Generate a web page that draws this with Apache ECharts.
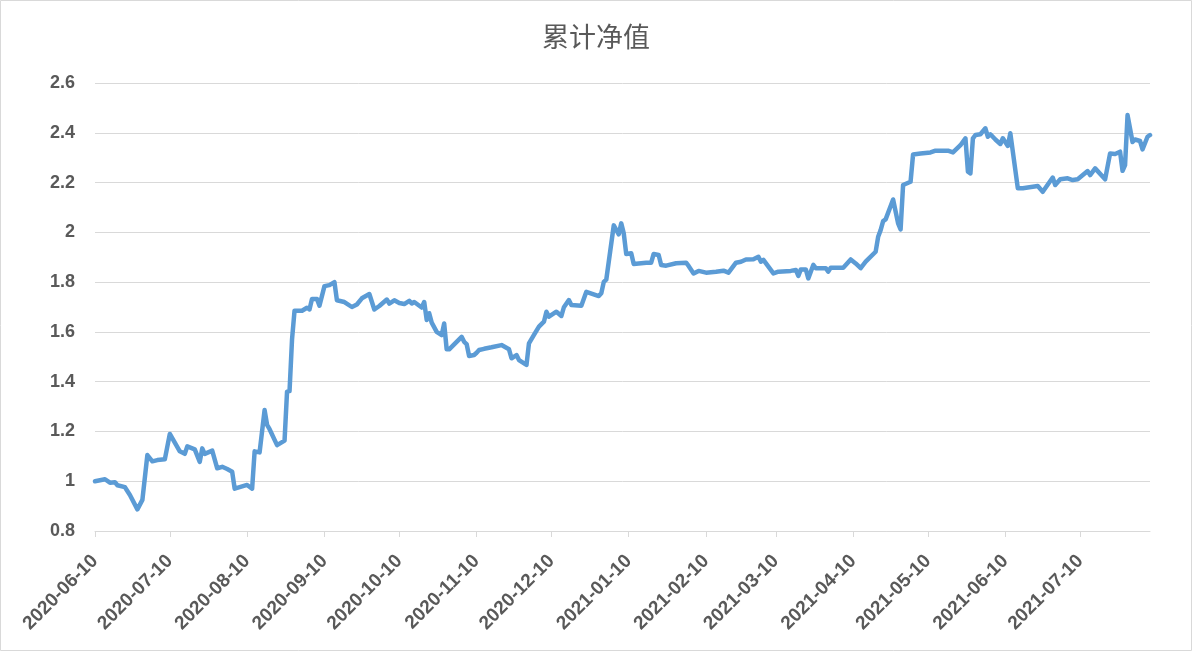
<!DOCTYPE html>
<html>
<head>
<meta charset="utf-8">
<script src="https://cdn.jsdelivr.net/npm/echarts@6/dist/echarts.min.js"></script>
<style>
html,body{margin:0;padding:0;background:#fff;}
#chart{width:1192px;height:651px;}
</style>
</head>
<body>
<div id="chart"></div>
<script>
var titleText = '累计净值';

var dates = [
'2020-06-10','2020-06-14','2020-06-16','2020-06-18','2020-06-19','2020-06-22','2020-06-24','2020-06-27','2020-06-29',
'2020-07-01','2020-07-03','2020-07-05','2020-07-08','2020-07-10','2020-07-14','2020-07-16','2020-07-17','2020-07-20',
'2020-07-22','2020-07-23','2020-07-24','2020-07-27','2020-07-29','2020-07-31','2020-08-02','2020-08-04','2020-08-05',
'2020-08-10','2020-08-12','2020-08-13','2020-08-15','2020-08-17','2020-08-18','2020-08-19','2020-08-22','2020-08-25',
'2020-08-26','2020-08-27','2020-08-28','2020-08-29','2020-09-01','2020-09-03','2020-09-04','2020-09-05','2020-09-07',
'2020-09-08','2020-09-10','2020-09-12','2020-09-14','2020-09-15','2020-09-18','2020-09-21','2020-09-23','2020-09-25',
'2020-09-28','2020-09-30','2020-10-02','2020-10-05','2020-10-06','2020-10-08','2020-10-10','2020-10-12','2020-10-14',
'2020-10-15','2020-10-16','2020-10-19','2020-10-20','2020-10-21','2020-10-22','2020-10-23','2020-10-25','2020-10-27',
'2020-10-28','2020-10-29','2020-10-30','2020-11-04','2020-11-05','2020-11-06','2020-11-07','2020-11-09','2020-11-10',
'2020-11-11','2020-11-13','2020-11-15','2020-11-16','2020-11-20','2020-11-23','2020-11-24','2020-11-26','2020-11-27',
'2020-11-30','2020-12-01','2020-12-03','2020-12-05','2020-12-07','2020-12-08','2020-12-09','2020-12-12','2020-12-14',
'2020-12-15','2020-12-17','2020-12-18','2020-12-22','2020-12-24','2020-12-29','2020-12-30','2020-12-31','2021-01-01',
'2021-01-04','2021-01-06','2021-01-07','2021-01-08','2021-01-09','2021-01-11','2021-01-12','2021-01-17','2021-01-19',
'2021-01-20','2021-01-22','2021-01-23','2021-01-25','2021-01-29','2021-02-02','2021-02-03','2021-02-05','2021-02-07',
'2021-02-10','2021-02-14','2021-02-17','2021-02-19','2021-02-22','2021-02-24','2021-02-26','2021-03-01','2021-03-03',
'2021-03-04','2021-03-05','2021-03-09','2021-03-11','2021-03-16','2021-03-18','2021-03-19','2021-03-20','2021-03-22',
'2021-03-23','2021-03-25','2021-03-26','2021-03-30','2021-03-31','2021-04-01','2021-04-06','2021-04-09','2021-04-11',
'2021-04-13','2021-04-15','2021-04-19','2021-04-20','2021-04-21','2021-04-22','2021-04-23','2021-04-26','2021-04-28',
'2021-04-29','2021-04-30','2021-05-03','2021-05-04','2021-05-07','2021-05-11','2021-05-13','2021-05-18','2021-05-20',
'2021-05-23','2021-05-25','2021-05-26','2021-05-27','2021-05-28','2021-05-29','2021-05-31','2021-06-02','2021-06-03',
'2021-06-04','2021-06-06','2021-06-08','2021-06-09','2021-06-11','2021-06-12','2021-06-15','2021-06-17','2021-06-23',
'2021-06-25','2021-06-29','2021-06-30','2021-07-02','2021-07-05','2021-07-07','2021-07-09','2021-07-13','2021-07-14',
'2021-07-16','2021-07-20','2021-07-22','2021-07-24','2021-07-26','2021-07-27','2021-07-28','2021-07-29','2021-07-31',
'2021-08-01','2021-08-03','2021-08-04','2021-08-06','2021-08-07'
];

var values = [
1.000,1.008,0.994,0.996,0.984,0.976,0.945,0.887,0.925,
1.105,1.080,1.085,1.088,1.190,1.120,1.110,1.140,1.128,
1.078,1.132,1.110,1.123,1.052,1.058,1.049,1.038,0.970,
0.985,0.970,1.120,1.116,1.286,1.226,1.209,1.145,1.163,
1.360,1.362,1.570,1.685,1.685,1.697,1.690,1.732,1.732,
1.705,1.784,1.788,1.800,1.727,1.720,1.700,1.710,1.735,
1.752,1.690,1.704,1.730,1.714,1.727,1.716,1.712,1.725,
1.714,1.720,1.698,1.720,1.648,1.675,1.637,1.600,1.587,
1.634,1.530,1.530,1.580,1.560,1.551,1.503,1.507,1.516,
1.527,1.532,1.536,1.538,1.547,1.530,1.494,1.507,1.487,
1.467,1.554,1.588,1.621,1.641,1.681,1.661,1.681,1.664,
1.699,1.728,1.708,1.705,1.761,1.744,1.755,1.801,1.810,
2.028,1.992,2.036,1.996,1.913,1.916,1.873,1.878,1.878,
1.913,1.909,1.869,1.866,1.876,1.878,1.865,1.835,1.845,
1.838,1.842,1.846,1.838,1.878,1.882,1.891,1.892,1.902,
1.882,1.889,1.835,1.842,1.845,1.849,1.825,1.851,1.851,
1.815,1.869,1.856,1.856,1.842,1.858,1.858,1.891,1.875,
1.856,1.882,1.922,1.982,2.009,2.045,2.052,2.132,2.036,
2.012,2.190,2.203,2.313,2.317,2.321,2.328,2.328,2.321,
2.350,2.378,2.244,2.237,2.378,2.391,2.394,2.418,2.384,
2.394,2.373,2.355,2.378,2.347,2.398,2.177,2.177,2.186,
2.163,2.220,2.190,2.213,2.217,2.210,2.213,2.246,2.230,
2.257,2.213,2.317,2.315,2.324,2.247,2.270,2.471,2.363,
2.373,2.367,2.333,2.384,2.391
];

var xTickLabels = ['2020-06-10','2020-07-10','2020-08-10','2020-09-10','2020-10-10','2020-11-10','2020-12-10',
'2021-01-10','2021-02-10','2021-03-10','2021-04-10','2021-05-10','2021-06-10','2021-07-10'];
var xStart = '2020-06-10';
var xEnd = '2021-08-07';

var yMin = 0.8, yMax = 2.6, yStep = 0.2;

var DAY = 86400000;
function toDay(s) {
  var p = s.split('-');
  return Math.round(Date.UTC(+p[0], +p[1] - 1, +p[2]) / DAY);
}
function pad(n) { return n < 10 ? '0' + n : '' + n; }
function fmt(day) {
  var d = new Date(Math.round(day) * DAY);
  return d.getUTCFullYear() + '-' + pad(d.getUTCMonth() + 1) + '-' + pad(d.getUTCDate());
}

var seriesData = dates.map(function (d, i) { return [toDay(d), values[i]]; });
var tickDays = xTickLabels.map(toDay);

var chart = echarts.init(document.getElementById('chart'), null, {renderer: 'canvas'});
chart.setOption({
  animation: false,
  backgroundColor: '#ffffff',
  title: {
    text: titleText,
    left: 'center',
    top: 18,
    textStyle: {
      fontFamily: '"Noto Sans CJK SC", sans-serif',
      fontSize: 27,
      fontWeight: 'normal',
      color: '#595959'
    }
  },
  graphic: [{
    type: 'rect',
    silent: true,
    shape: {x: 0.5, y: 0.5, width: 1191, height: 650},
    style: {fill: 'none', stroke: '#d9d9d9', lineWidth: 1}
  }],
  grid: {left: 95, right: 42, top: 83, bottom: 120, containLabel: false},
  xAxis: {
    type: 'value',
    min: toDay(xStart),
    max: toDay(xEnd),
    splitLine: {show: false},
    axisLine: {show: true, lineStyle: {color: '#d9d9d9', width: 1}},
    axisTick: {show: true, customValues: tickDays, length: 6, lineStyle: {color: '#d9d9d9'}},
    axisLabel: {
      customValues: tickDays,
      rotate: 45,
      margin: 27,
      color: '#595959',
      fontSize: 19,
      fontWeight: 'bold',
      fontFamily: '"Liberation Sans", Arial, sans-serif',
      formatter: function (v) { return fmt(v); }
    }
  },
  yAxis: {
    type: 'value',
    min: yMin,
    max: yMax,
    interval: yStep,
    axisLine: {show: false},
    axisTick: {show: false},
    splitLine: {show: true, lineStyle: {color: '#d9d9d9', width: 1}},
    axisLabel: {
      margin: 20,
      color: '#595959',
      fontSize: 18,
      fontWeight: 'bold',
      fontFamily: '"Liberation Sans", Arial, sans-serif'
    }
  },
  series: [{
    type: 'line',
    data: seriesData,
    showSymbol: false,
    lineStyle: {color: '#5B9BD5', width: 4.5, join: 'round', cap: 'round'},
    itemStyle: {color: '#5B9BD5'}
  }]
});
</script>
</body>
</html>
